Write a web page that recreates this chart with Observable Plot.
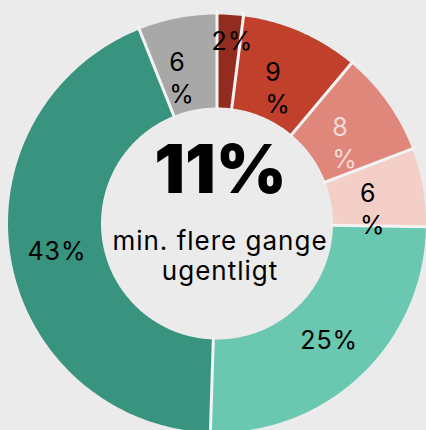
<!DOCTYPE html>
<html>
<head>
<meta charset="utf-8">
<script src="https://cdn.jsdelivr.net/npm/d3@7"></script>
<script src="https://cdn.jsdelivr.net/npm/@observablehq/plot@0.6"></script>
<style>
  html, body { margin: 0; padding: 0; background: #ebebeb; }
  #chart { width: 426px; height: 430px; overflow: hidden; }
  svg { display: block; }
  #chart text.lbl { letter-spacing: 1px; }
</style>
</head>
<body>
<div id="chart"></div>
<script>
const categories = ["a", "b", "c", "d", "e", "f", "g"];
const values = [2, 9, 8, 6, 25, 43, 6];
const labels = ["2%", "9\n%", "8\n%", "6\n%", "25%", "43%", "6\n%"];
const colors = ["#922c21", "#c0402b", "#e0877b", "#f4cfc8", "#6ac7b0", "#38947e", "#a8a8a8"];
const labelColors = ["#000", "#000", "#f3dcd8", "#000", "#000", "#000", "#000"];
const centerValue = "11%";
const centerText = "min. flere gange\nugentligt";

const W = 426, H = 430;
const cx = 216.5, cy = 223, Rpx = 209;
const inner = 116 / 209;

const pie = d3.pie().sort(null).value(d => d.value)(categories.map((c, i) => ({c, value: values[i], i})));

// polygon vertices in data units (outer radius = 1)
const poly = [];
pie.forEach(p => {
  const n = Math.max(8, Math.ceil((p.endAngle - p.startAngle) * 60));
  for (let k = 0; k <= n; k++) {
    const a = p.startAngle + (p.endAngle - p.startAngle) * k / n;
    poly.push({c: p.data.c, x: Math.sin(a), y: Math.cos(a)});
  }
  for (let k = n; k >= 0; k--) {
    const a = p.startAngle + (p.endAngle - p.startAngle) * k / n;
    poly.push({c: p.data.c, x: inner * Math.sin(a), y: inner * Math.cos(a)});
  }
});
const seps = pie.map(p => ({
  x1: inner * 0.98 * Math.sin(p.startAngle), y1: inner * 0.98 * Math.cos(p.startAngle),
  x2: 1.02 * Math.sin(p.startAngle), y2: 1.02 * Math.cos(p.startAngle)
}));
const mid = (1 + inner) / 2;
const lab = pie.map(p => {
  const a = (p.startAngle + p.endAngle) / 2;
  return {x: mid * Math.sin(a), y: mid * Math.cos(a), text: labels[p.data.i], color: labelColors[p.data.i], multi: labels[p.data.i].includes("\n"), i: p.data.i};
});

const font = "Inter, 'Open Sans', sans-serif";
const cls = {className: undefined};
const chart = Plot.plot({
  width: W, height: H,
  margin: 0,
  style: {background: "#ebebeb", fontFamily: font},
  x: {domain: [-cx / Rpx, (W - cx) / Rpx], range: [0, W], axis: null},
  y: {domain: [-(H - cy) / Rpx, cy / Rpx], range: [H, 0], axis: null},
  color: {domain: categories, range: colors},
  marks: [
    Plot.line(poly, {x: "x", y: "y", z: "c", fill: "c", stroke: "none", curve: "linear"}),
    Plot.link(seps, {x1: "x1", y1: "y1", x2: "x2", y2: "y2", stroke: "#f3f3f3", strokeWidth: 3}),
    // single-line labels
    Plot.text(lab.filter(d => !d.multi && d.i !== 0), {x: "x", y: "y", text: "text", fill: "color", fontSize: 25, textAnchor: "middle", lineAnchor: "middle"}),
    Plot.text(lab.filter(d => d.i === 0), {x: "x", y: "y", text: "text", fill: "color", fontSize: 25, textAnchor: "middle", lineAnchor: "middle", dx: 5, dy: -19}),
    // wrapped labels
    Plot.text(lab.filter(d => d.multi), {x: "x", y: "y", text: "text", fill: "color", fontSize: 25, textAnchor: "start", lineAnchor: "top", lineHeight: 1.28, dx: -17, dy: -16}),
    // center
    Plot.text([{x: 0, y: 0}], {x: "x", y: "y", text: [centerValue], fontSize: 68, fontWeight: 900, fill: "#000", textAnchor: "middle", lineAnchor: "middle", dx: 3.5, dy: -52}),
    Plot.text([{x: 0, y: 0}], {x: "x", y: "y", text: [centerText], fontSize: 26, fill: "#000", textAnchor: "middle", lineAnchor: "top", lineHeight: 1.154, dx: 3, dy: 5})
  ]
});
// widen label tracking to match the reference type
chart.querySelectorAll("g[aria-label='text'] text").forEach(t => {
  if (t.textContent !== centerValue) t.classList.add("lbl");
});
document.getElementById("chart").appendChild(chart);
</script>
</body>
</html>
